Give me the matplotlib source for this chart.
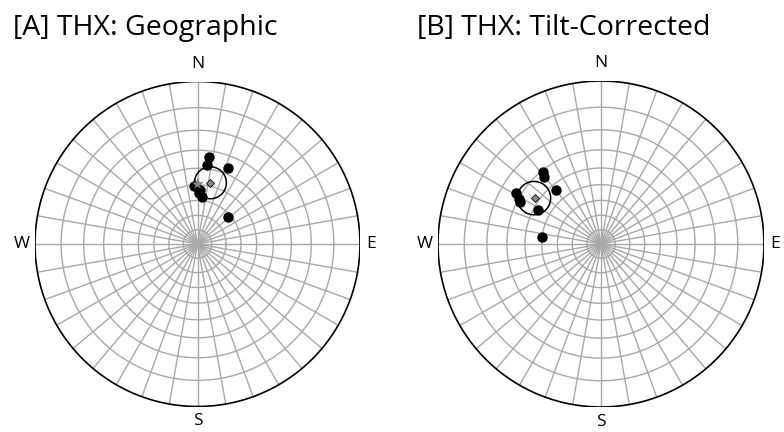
import numpy as np
import matplotlib.pyplot as plt

plt.rcParams['font.family'] = ['Open Sans', 'DejaVu Sans']

GRID = '#a8a8a8'

# Site THX directions (declination, inclination in degrees)
geo_dec = [7.5, 6.6, 22.0, 356.8, 1.7, 5.1, 48.4, 3.0]
geo_inc = [33.1, 37.9, 36.3, 50.7, 54.9, 57.8, 61.6, 53.0]
geo_mean = (11.9, 48.2)
geo_a95 = 9.8
geo_ref = (359.8, 49.5)

tc_dec = [321.4, 319.4, 320.2, 301.1, 298.9, 297.5, 298.6, 276.5]
tc_inc = [31.0, 33.1, 43.4, 27.3, 30.5, 31.7, 42.8, 50.1]
tc_mean = (304.4, 37.4)
tc_a95 = 9.4

titles = ['[A] THX: Geographic', '[B] THX: Tilt-Corrected']


def project(dec, inc):
    # stereographic (equal-angle), lower hemisphere
    dec = np.radians(np.asarray(dec, float))
    inc = np.radians(np.asarray(inc, float))
    r = np.tan((np.pi / 2 - np.abs(inc)) / 2)
    return r * np.sin(dec), r * np.cos(dec)


def small_circle(dec, inc, a95, n=200):
    d, i, a = np.radians([dec, inc, a95])
    mean = np.array([np.cos(i) * np.cos(d), np.cos(i) * np.sin(d), np.sin(i)])
    u = np.cross(mean, [0, 0, 1.0])
    u /= np.linalg.norm(u)
    v = np.cross(mean, u)
    t = np.linspace(0, 2 * np.pi, n)
    pts = (np.cos(a) * mean[:, None]
           + np.sin(a) * (np.cos(t) * u[:, None] + np.sin(t) * v[:, None]))
    decs = np.degrees(np.arctan2(pts[1], pts[0]))
    incs = np.degrees(np.arcsin(pts[2]))
    return project(decs, incs)


def draw_net(ax):
    t = np.linspace(0, 2 * np.pi, 400)
    for inc in range(10, 90, 10):
        r = np.tan(np.radians(90 - inc) / 2)
        ax.plot(r * np.cos(t), r * np.sin(t), color=GRID, lw=1.0, zorder=1)
    for az in range(0, 360, 10):
        a = np.radians(az)
        ax.plot([0, np.sin(a)], [0, np.cos(a)], color=GRID, lw=1.0, zorder=1)
    ax.plot(np.cos(t), np.sin(t), color='black', lw=1.2, zorder=2)
    kw = dict(fontsize=12.5, ha='center', va='center', clip_on=False)
    ax.text(0, 1.11, 'N', **kw)
    ax.text(0, -1.09, 'S', **kw)
    ax.text(1.07, 0, 'E', **kw)
    ax.text(-1.08, 0, 'W', **kw)
    ax.set_xlim(-1, 1)
    ax.set_ylim(-1, 1)
    ax.set_aspect('equal')
    ax.axis('off')


fig = plt.figure(figsize=(7.84, 4.32), dpi=100)
W, H = 784, 432

# panel centres and radii in pixels
panels = [(197.5, 244, 162.5), (601, 244, 163)]
axes = []
for cx, cy, R in panels:
    ax = fig.add_axes([(cx - R) / W, (H - cy - R) / H, 2 * R / W, 2 * R / H])
    draw_net(ax)
    axes.append(ax)

for ax, dec, inc, mean, a95 in [(axes[0], geo_dec, geo_inc, geo_mean, geo_a95),
                                (axes[1], tc_dec, tc_inc, tc_mean, tc_a95)]:
    x, y = project(dec, inc)
    ax.plot(x, y, 'o', color='black', ms=6.5, zorder=4)
    cx, cy = small_circle(*mean, a95)
    ax.plot(cx, cy, color='black', lw=1.1, zorder=5)
    mx, my = project(*mean)
    ax.plot(mx, my, 'D', color='#8c8c8c', mec='black', mew=0.6, ms=4.5, zorder=6)

rx, ry = project(*geo_ref)
axes[0].plot(rx, ry, '*', color='#8c8c8c', mec='#555555', mew=0.4, ms=8, zorder=6)

fig.text(13 / W, 1 - 35 / H, titles[0], fontsize=20.5, va='baseline')
fig.text(417 / W, 1 - 35 / H, titles[1], fontsize=20.5, va='baseline')

fig.savefig('out.png', dpi=100)
